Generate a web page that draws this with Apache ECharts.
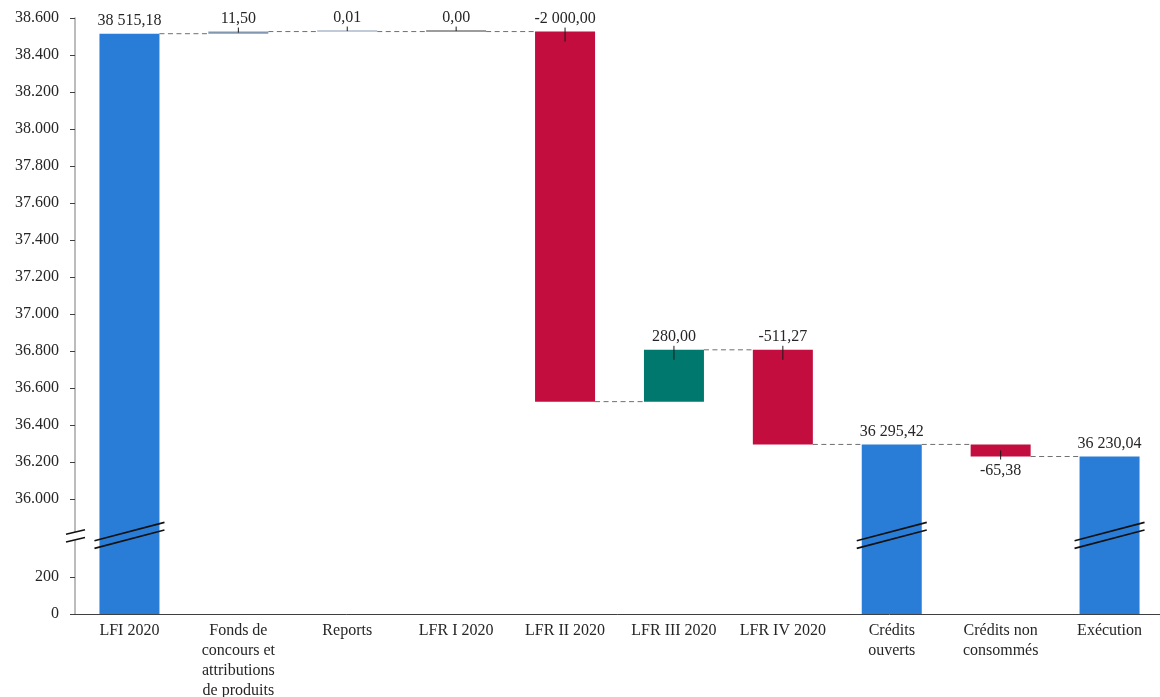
<!DOCTYPE html>
<html><head><meta charset="utf-8">
<script src="https://cdn.jsdelivr.net/npm/echarts@6/dist/echarts.min.js"></script>
<style>html,body{margin:0;padding:0;background:#fff}#c{width:1160px;height:697px}</style>
</head><body><div id="c"></div>
<script>
// ---------- DATA ----------
const categories = ['LFI 2020','Fonds de\nconcours et\nattributions\nde produits','Reports','LFR I 2020','LFR II 2020','LFR III 2020','LFR IV 2020','Crédits\nouverts','Crédits non\nconsommés','Exécution'];
const values = [38515.18, 11.50, 0.01, 0.00, -2000.00, 280.00, -511.27, 36295.42, -65.38, 36230.04];
const isTotal = [true, false, false, false, false, false, false, true, false, true];
const yTickValues = [0, 200, 36000, 36200, 36400, 36600, 36800, 37000, 37200, 37400, 37600, 37800, 38000, 38200, 38400, 38600];

// ---------- STYLE ----------
const barColors = ['#2A7DD6','#8497B0','#8497B0','#3a3a3a','#C30D3E','#00786E','#C30D3E','#2A7DD6','#C30D3E','#2A7DD6'];
const labelSide = ['top','top','top','top','top','top','top','top','bottom','top'];
const FONT = '16px "Liberation Serif"';
const TXT = '#262626';

// broken axis: values at/above BREAK_HIGH are shifted down so BREAK_HIGH sits at BREAK_POS
const BREAK_HIGH = 36000, BREAK_POS = 621, BREAK_MARK = 425;
const tf = v => v >= 1000 ? v - BREAK_HIGH + BREAK_POS : v;
const yMax = tf(38600);

function fmt(v){
  const s = v < 0 ? '-' : '';
  let [ip, dp] = Math.abs(v).toFixed(2).split('.');
  ip = ip.replace(/\B(?=(\d{3})+(?!\d))/g, ' ');
  return s + ip + ',' + dp;
}
const tickLabel = {};
yTickValues.forEach(v => { tickLabel[Math.round(tf(v))] = String(v).replace(/\B(?=(\d{3})+(?!\d))/g, '.'); });

// waterfall
let running = 0;
const rows = [];   // [idx, low, high, endLevel]
values.forEach((v, i) => {
  let lo, hi;
  if (isTotal[i]) { lo = 0; hi = v; running = v; }
  else { const s = running, e = running + v; lo = Math.min(s, e); hi = Math.max(s, e); running = e; }
  rows.push([i, tf(lo), tf(hi), tf(running)]);
});

const chart = echarts.init(document.getElementById('c'));
chart.setOption({
  animation: false,
  grid: { left: 75, right: -4, top: 18, bottom: 83, containLabel: false, outerBoundsMode: 'none' },
  xAxis: {
    type: 'category', data: categories,
    axisTick: { show: false },
    axisLine: { lineStyle: { color: '#404040', width: 1 } },
    axisLabel: { interval: 0, fontFamily: 'Liberation Serif', fontSize: 16, lineHeight: 20, color: TXT, margin: 7 }
  },
  yAxis: {
    type: 'value', min: 0, max: yMax,
    splitLine: { show: false },
    axisLine: { show: true, lineStyle: { color: '#a6a6a6', width: 1.5 } },
    axisTick: { show: true, length: 5, customValues: yTickValues.map(tf), lineStyle: { color: '#404040' } },
    axisLabel: { customValues: yTickValues.map(tf), margin: 16, fontFamily: 'Liberation Serif', fontSize: 16, color: TXT,
      formatter: v => tickLabel[Math.round(v)] || '' }
  },
  series: [
    { // connectors
      type: 'custom', clip: false, z: 3,
      data: rows.slice(0, -1),
      encode: { x: 0, y: 3 },
      renderItem(params, api) {
        const i = api.value(0);
        const w = api.size([1, 0])[0] * 0.551;
        const p = api.coord([i, api.value(3)]);
        const q = api.coord([i + 1, api.value(3)]);
        return { type: 'line', shape: { x1: p[0] + w / 2, y1: p[1], x2: q[0] - w / 2, y2: q[1] },
          style: { stroke: '#6f6f6f', lineWidth: 1, lineDash: [5, 3.5] } };
      }
    },
    { // bars + labels + leader ticks
      type: 'custom', clip: false, z: 4,
      data: rows,
      encode: { x: 0, y: [1, 2] },
      renderItem(params, api) {
        const i = api.value(0);
        const lo = api.coord([i, api.value(1)]);
        const hi = api.coord([i, api.value(2)]);
        const w = api.size([1, 0])[0] * 0.551;
        let h = lo[1] - hi[1]; if (h < 1) h = 1;
        const top = lo[1] - h, bot = lo[1], cx = lo[0];
        const children = [{ type: 'rect', shape: { x: cx - w / 2, y: top, width: w, height: h }, style: { fill: barColors[i] } }];
        const side = labelSide[i];
        const ty = side === 'top' ? top - 13 : bot + 14;
        children.push({ type: 'text', style: { text: fmt(values[i]), x: cx, y: ty, align: 'center', verticalAlign: 'middle', font: FONT, fill: TXT } });
        if (!isTotal[i]) {
          const ext = Math.min(10, h / 2);
          const y1 = side === 'top' ? top - 4 : bot + 3;
          const y2 = side === 'top' ? top + ext : bot - ext;
          children.push({ type: 'line', shape: { x1: cx, y1, x2: cx, y2 }, style: { stroke: '#1a1a1a', lineWidth: 1 } });
        }
        return { type: 'group', children };
      }
    },
    { // break marks on the total bars
      type: 'custom', clip: false, z: 5,
      data: rows.filter(r => isTotal[r[0]]).map(r => [r[0], BREAK_MARK]),
      encode: { x: 0, y: 1 },
      renderItem(params, api) {
        const c = api.coord([api.value(0), api.value(1)]);
        const hw = 35, dy = 9.2, gap = 7.6;
        const mk = off => ({ type: 'line', shape: { x1: c[0] - hw, y1: c[1] + dy + off - gap / 2, x2: c[0] + hw, y2: c[1] - dy + off - gap / 2 },
          style: { stroke: '#111', lineWidth: 1.6 } });
        return { type: 'group', children: [mk(0), mk(gap)] };
      }
    },
    { // break mark on the value axis
      type: 'custom', clip: false, z: 5,
      data: [[0, BREAK_MARK]],
      encode: { x: 0, y: 1 },
      renderItem(params, api) {
        const c = api.coord([0, api.value(1)]);
        const ax = params.coordSys.x;
        const y = c[1] + 0.5;
        const l = ax - 9, r = ax + 10, dy = 2.2, gap = 7.8;
        return { type: 'group', children: [
          { type: 'polygon', shape: { points: [[l, y + dy - gap / 2], [r, y - dy - gap / 2], [r, y - dy + gap / 2], [l, y + dy + gap / 2]] }, style: { fill: '#fff' } },
          { type: 'line', shape: { x1: l, y1: y + dy - gap / 2, x2: r, y2: y - dy - gap / 2 }, style: { stroke: '#111', lineWidth: 1.6 } },
          { type: 'line', shape: { x1: l, y1: y + dy + gap / 2, x2: r, y2: y - dy + gap / 2 }, style: { stroke: '#111', lineWidth: 1.6 } }
        ] };
      }
    }
  ]
});
</script></body></html>
